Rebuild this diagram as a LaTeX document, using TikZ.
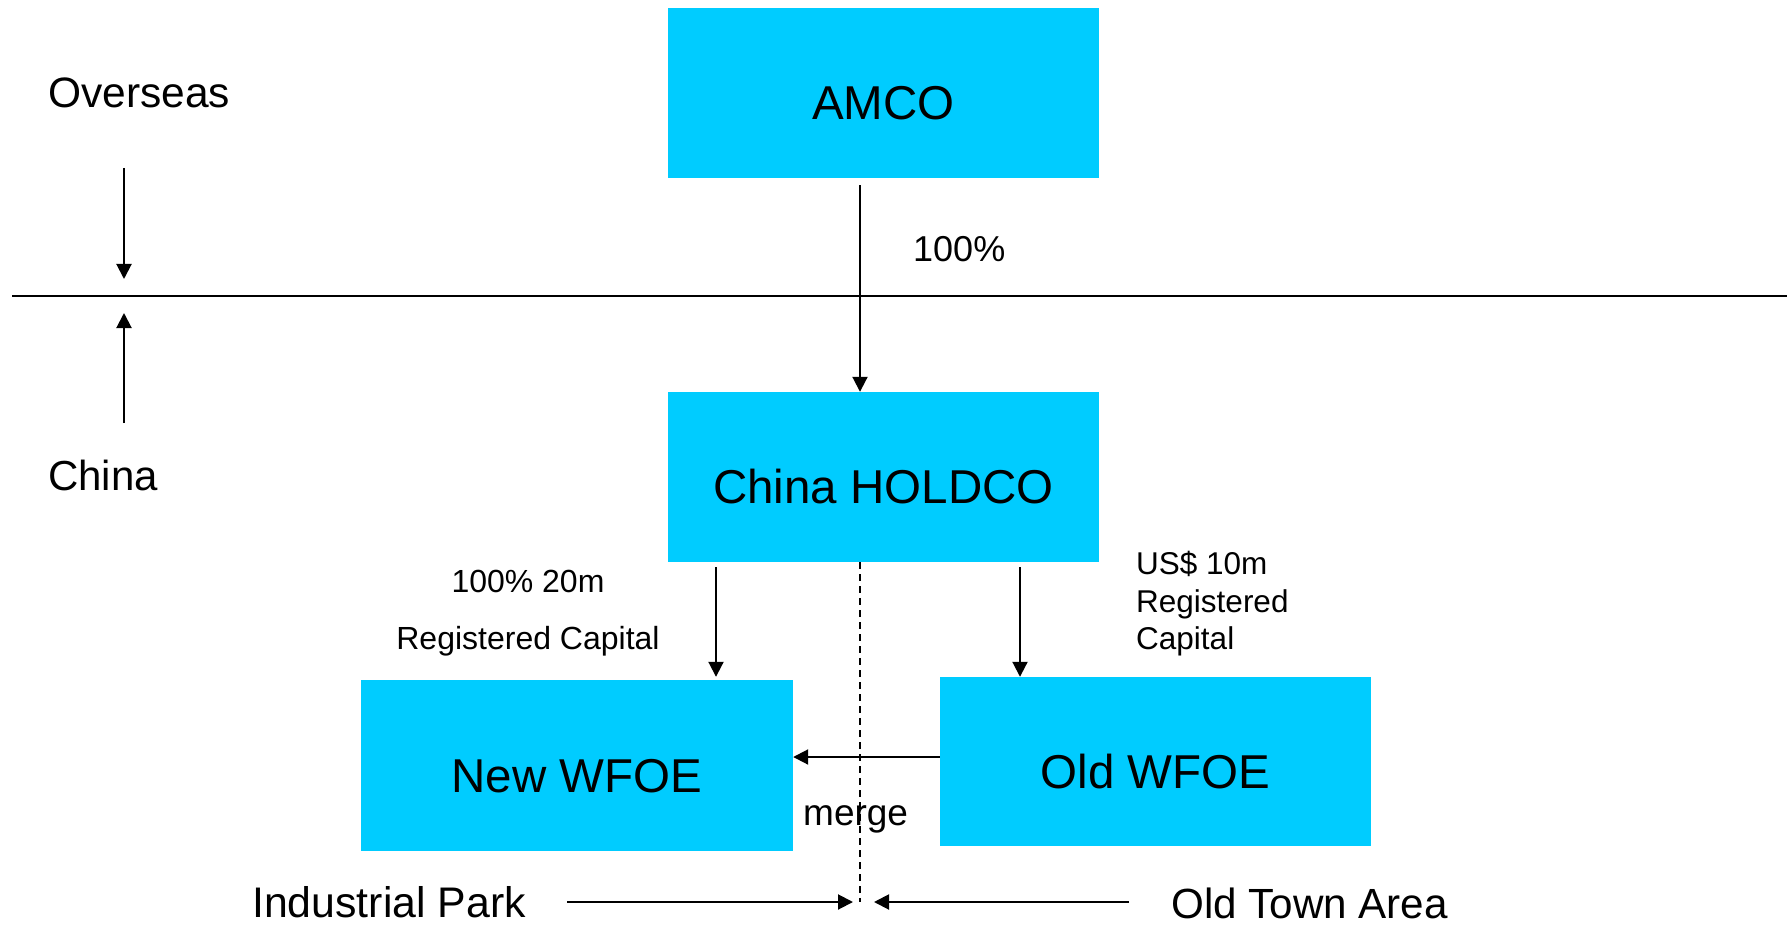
\documentclass[tikz,border=0pt]{standalone}
\usepackage{fontspec}
\setmainfont{Liberation Sans}
\usetikzlibrary{arrows.meta,calc}
\definecolor{boxcyan}{RGB}{0,204,255}
\tikzset{
  entity/.style={fill=boxcyan, draw=none, inner sep=0pt, text height=53pt, text depth=0pt,
     font=\fontsize{47.5}{56}\selectfont},
  arr/.style={line width=2pt, -{Triangle[length=15pt,width=15pt]}},
  plain/.style={inner sep=0pt},
}
\begin{document}
\begin{tikzpicture}[x=1pt,y=-1pt]
\useasboundingbox (0,0) rectangle (1790,925);
% boxes
\node[entity, minimum width=431pt, minimum height=170pt] (amco) at (883.5,93) {AMCO};
\node[entity, minimum width=431pt, minimum height=170pt] (holdco) at (883.5,477) {China HOLDCO};
\node[entity, minimum width=432pt, minimum height=171pt] (newwfoe) at (577,765.5) {New WFOE};
\node[entity, minimum width=431pt, minimum height=169pt] (oldwfoe) at (1155.5,761.5) {Old WFOE};
% side labels
\node[plain, anchor=west, font=\fontsize{42.5}{50}\selectfont] (overseas) at (48,93) {Overseas};
\node[plain, anchor=west, font=\fontsize{42}{50}\selectfont] (china) at (48,475) {China};
% separator
\coordinate (sepL) at (12,296);
\coordinate (sepR) at (1787,296);
\draw[line width=2.7pt] (sepL) -- (sepR);
% side arrows
\coordinate (dnA) at (124,168);
\coordinate (dnB) at (124,279);
\coordinate (upA) at (124,423);
\coordinate (upB) at (124,313);
\draw[arr] (dnA) -- (dnB);
\draw[arr] (upA) -- (upB);
% AMCO -> HOLDCO
\coordinate (ax) at (860,0);
\draw[arr, shorten <=7pt] (amco.south -| ax) -- (holdco.north -| ax);
\node[plain, anchor=west, font=\fontsize{36}{43}\selectfont] (pct) at (913,249) {100\%};
% HOLDCO -> WFOEs
\coordinate (nx) at (716,0);
\coordinate (ox) at (1020,0);
\draw[arr, shorten <=5pt, shorten >=3pt] (holdco.south -| nx) -- (newwfoe.north -| nx);
\draw[arr, shorten <=5pt] (holdco.south -| ox) -- (oldwfoe.north -| ox);
\node[plain, anchor=north, align=center, font=\fontsize{32}{57}\selectfont] (lblnew) at (528,570)
  {100\% 20m\\Registered Capital};
\node[plain, anchor=north west, align=left, font=\fontsize{31.5}{37.5}\selectfont] (lblold) at (1136,551)
  {US\$ 10m\\Registered\\Capital};
% merge arrow
\coordinate (my) at (0,757);
\draw[arr] (oldwfoe.west |- my) -- (newwfoe.east |- my);
\node[plain, anchor=base west, font=\fontsize{37}{44}\selectfont] (merge) at (803,825) {merge};
% dashed divider
\coordinate (dashEnd) at (860,902);
\draw[line width=1.5pt, dash pattern=on 7pt off 5pt] (holdco.south -| ax) -- (dashEnd);
% bottom labels and arrows
\node[plain, anchor=base west, font=\fontsize{42.8}{50}\selectfont] (indpark) at (252,917) {Industrial Park};
\node[plain, anchor=base west, font=\fontsize{42.2}{50}\selectfont] (oldtown) at (1171,918) {Old Town Area};
\coordinate (ipL) at (567,902);
\coordinate (ipR) at (853,902);
\coordinate (otR) at (1129,902);
\coordinate (otL) at (874,902);
\draw[arr] (ipL) -- (ipR);
\draw[arr] (otR) -- (otL);
\end{tikzpicture}
\end{document}
